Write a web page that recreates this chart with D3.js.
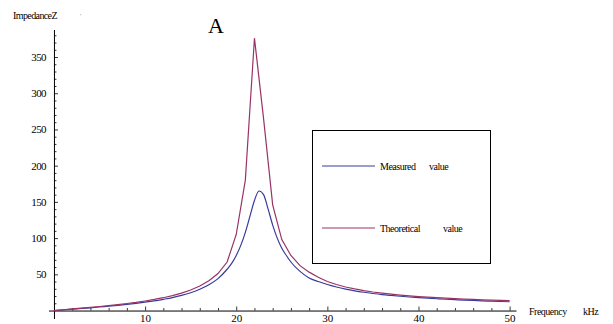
<!DOCTYPE html>
<html>
<head>
<meta charset="utf-8">
<script src="https://cdn.jsdelivr.net/npm/d3@7"></script>
<style>
  body { margin: 0; background: #fff; }
  text { font-family: "Liberation Serif", "DejaVu Serif", serif; }
</style>
</head>
<body>
<div id="chart"></div>
<script>
// data
const freqTheory = [0, 1, 2, 3, 4, 5, 6, 7, 8, 9, 10, 11, 12, 13, 14, 15, 16, 17, 18, 19, 20,
  21, 22, 23, 24, 25, 26, 27, 28, 29, 30, 31, 32, 33, 34, 35, 36, 37, 38, 39, 40,
  41, 42, 43, 44, 45, 46, 47, 48, 49, 50]
const theoretical = [0, 1.1, 2.2, 3.3, 4.4, 5.6, 6.9, 8.2, 9.7, 11.3, 13.2, 15.3, 17.7, 20.6, 24.1, 28.4, 33.8, 41, 51, 67, 105,
  180, 376, 265, 146, 98, 76, 62, 53, 46, 40, 36, 32.5, 29.8, 27.5, 25.6, 24, 22.6, 21.4, 20.3, 19.3,
  18.5, 17.7, 17, 16.4, 15.8, 15.3, 14.8, 14.4, 14, 13.6]

const freqMeasured = [0, 1, 2, 3, 4, 5, 6, 7, 8, 9, 10, 11, 12, 13, 14, 15, 16, 17, 18, 19, 19.5, 20,
  20.5, 21, 21.5, 22, 22.5, 23, 23.5, 24, 24.5, 25, 25.5, 26, 27, 28, 29, 30, 31, 32, 33, 34, 35,
  36, 37, 38, 39, 40, 41, 42, 43, 44, 45, 46, 47, 48, 49, 50]
const measured = [0, 0.9, 1.9, 2.8, 3.8, 4.9, 6.0, 7.2, 8.5, 9.9, 11.5, 13.3, 15.5, 17.9, 20.9, 24.6, 29.3, 35.5, 44, 57, 65, 76,
  90, 108, 130, 152, 165, 160, 140, 118, 100, 86, 76, 67, 54, 45, 40, 36, 32.5, 29.6, 27.2, 25.2, 23.5,
  22, 20.8, 19.7, 18.7, 17.8, 17, 16.3, 15.6, 15, 14.4, 13.9, 13.4, 12.9, 12.5, 12.1]

const xMajor = [10, 20, 30, 40, 50]
const xMinor = [2, 4, 6, 8, 12, 14, 16, 18, 22, 24, 26, 28, 32, 34, 36, 38, 42, 44, 46, 48]
const yMajor = [50, 100, 150, 200, 250, 300, 350]
const yMinor = [10, 20, 30, 40, 60, 70, 80, 90, 110, 120, 130, 140, 160, 170, 180, 190,
  210, 220, 230, 240, 260, 270, 280, 290, 310, 320, 330, 340, 360, 370, 380]

const width = 613
const height = 324

const svg = d3.select("#chart")
    .append("svg")
    .attr("width", width)
    .attr("height", height)

const x = d3.scaleLinear().domain([-0.6, 50.7]).range([48.5, 516])
const y = d3.scaleLinear().domain([-11, 388]).range([318.5, 29.5])

const blue = "#3a3a9e"
const purple = "#993366"

// x axis (ticks point up, Mathematica style)
const xAxis = svg.append("g")
    .attr("transform", "translate(0," + y(0) + ")")
    .call(d3.axisBottom(x).tickValues(xMajor).tickSize(-4).tickSizeOuter(0).tickPadding(4))
xAxis.selectAll("text").style("font-size", "11px").attr("fill", "#000")
svg.append("g")
    .attr("transform", "translate(0," + y(0) + ")")
    .call(d3.axisBottom(x).tickValues(xMinor).tickSize(-2.5).tickSizeOuter(0).tickFormat(""))
    .select(".domain").remove()

// y axis (ticks point right)
const yAxis = svg.append("g")
    .attr("transform", "translate(" + x(0) + ",0)")
    .call(d3.axisLeft(y).tickValues(yMajor).tickSize(-4).tickSizeOuter(0).tickPadding(8))
yAxis.selectAll("text").style("font-size", "11px").style("letter-spacing", "-0.6px").attr("fill", "#000")
svg.append("g")
    .attr("transform", "translate(" + x(0) + ",0)")
    .call(d3.axisLeft(y).tickValues(yMinor).tickSize(-2.5).tickSizeOuter(0).tickFormat(""))
    .select(".domain").remove()

svg.selectAll(".tick line").attr("stroke-width", 0.8)

// curves
const lineTheory = d3.line()
    .x((d, i) => x(freqTheory[i]))
    .y(d => y(d))

const lineMeasured = d3.line()
    .x((d, i) => x(freqMeasured[i]))
    .y(d => y(d))
    .curve(d3.curveMonotoneX)

svg.append("path")
    .datum(measured)
    .attr("d", lineMeasured)
    .attr("fill", "none")
    .attr("stroke", blue)
    .attr("stroke-width", 1.2)

svg.append("path")
    .datum(theoretical)
    .attr("d", lineTheory)
    .attr("fill", "none")
    .attr("stroke", purple)
    .attr("stroke-width", 1.2)

// labels
svg.append("text")
    .attr("x", 13).attr("y", 19)
    .text("ImpedanceZ")
    .style("font-size", "10px")
    .style("letter-spacing", "-0.6px")
svg.append("text")
    .attr("x", 80).attr("y", 18)
    .text("'")
    .style("font-size", "7px")
    .attr("fill", "#888")

svg.append("text")
    .attr("x", 208).attr("y", 33)
    .text("A")
    .style("font-size", "22px")

svg.append("text")
    .attr("x", 529).attr("y", 315)
    .text("Frequency")
    .style("font-size", "10px")
    .style("letter-spacing", "-0.5px")
svg.append("text")
    .attr("x", 583).attr("y", 315)
    .text("kHz")
    .style("font-size", "10px")
    .style("letter-spacing", "-0.5px")

// legend
const legend = svg.append("g")
legend.append("rect")
    .attr("x", 312.5).attr("y", 130.5)
    .attr("width", 178).attr("height", 133)
    .attr("fill", "#fff")
    .attr("stroke", "#000")
    .attr("stroke-width", 1)

const legendItems = [
    { name: "Measured", word: "value", color: blue, ly: 166, vx: 429 },
    { name: "Theoretical", word: "value", color: purple, ly: 228, vx: 443 }
]
legendItems.forEach(d => {
    legend.append("line")
        .attr("x1", 322).attr("x2", 375)
        .attr("y1", d.ly).attr("y2", d.ly)
        .attr("stroke", d.color)
        .attr("stroke-width", 1.2)
    legend.append("text")
        .attr("x", 380).attr("y", d.ly + 3.5)
        .text(d.name)
        .style("font-size", "10px")
        .style("letter-spacing", "-0.5px")
    legend.append("text")
        .attr("x", d.vx).attr("y", d.ly + 3.5)
        .text(d.word)
        .style("font-size", "10px")
        .style("letter-spacing", "-0.5px")
})
</script>
</body>
</html>
